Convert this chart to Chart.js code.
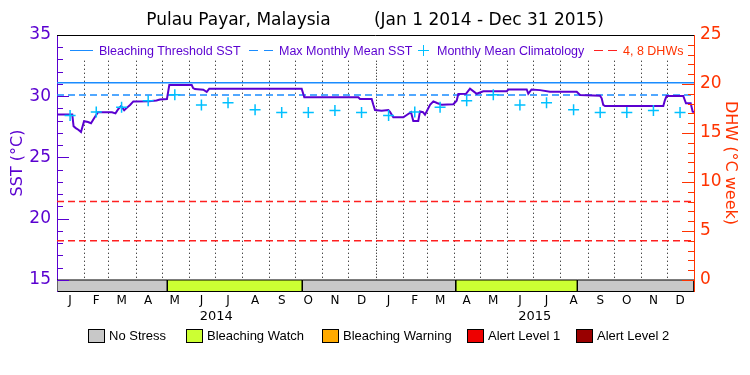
<!DOCTYPE html>
<html>
<head>
<meta charset="utf-8">
<script src="https://cdn.jsdelivr.net/npm/chart.js@4.4.1/dist/chart.umd.min.js"></script>
<style>
  html, body { margin: 0; padding: 0; background: #fff; }
  #wrap { position: relative; width: 750px; height: 375px; overflow: hidden; }
  #chart { position: absolute; left: 0; top: 0; }
  .lt { position: absolute; font-family: "Liberation Sans", Arial, sans-serif; font-size: 12.5px; line-height: 14px; white-space: nowrap; }
  .lb { position: absolute; font-family: "Liberation Sans", Arial, sans-serif; font-size: 13px; line-height: 14px; white-space: nowrap; color: #000; }
  .sw { position: absolute; width: 15px; height: 12px; border: 1px solid #000; }
  .seg { position: absolute; height: 0; }
</style>
</head>
<body>
<div id="wrap">
  <canvas id="chart" width="750" height="375"></canvas>

  <!-- legend inside the plot -->
  <div class="seg" style="left:70px;top:50px;width:23px;border-top:1.5px solid #1a8cff;"></div>
  <div class="lt" style="left:99px;top:44px;color:#5a00d0;">Bleaching Threshold SST</div>
  <div class="seg" style="left:249px;top:50px;width:9px;border-top:1.5px solid #1a8cff;"></div>
  <div class="seg" style="left:264px;top:50px;width:9px;border-top:1.5px solid #1a8cff;"></div>
  <div class="lt" style="left:279px;top:44px;color:#5a00d0;">Max Monthly Mean SST</div>
  <div class="seg" style="left:418px;top:50px;width:11px;border-top:1.5px solid #00c0ff;"></div>
  <div class="seg" style="left:423px;top:45px;width:0;height:11px;border-left:1.5px solid #00c0ff;"></div>
  <div class="lt" style="left:437px;top:44px;color:#5a00d0;">Monthly Mean Climatology</div>
  <div class="seg" style="left:594px;top:50px;width:9px;border-top:1.5px solid #ff2020;"></div>
  <div class="seg" style="left:608px;top:50px;width:9px;border-top:1.5px solid #ff2020;"></div>
  <div class="lt" style="left:623px;top:44px;color:#ff3300;">4, 8 DHWs</div>

  <!-- stress legend -->
  <div id="stressLegend"></div>
</div>

<script>
'use strict';

// ─── Data ────────────────────────────────────────────────────────────────────

// x axis runs in days from Jan 1 2014 (0) to Dec 31 2015 (730)
const DAY_MIN = 0;
const DAY_MAX = 730;

const MONTH_LABELS = ['J','F','M','A','M','J','J','A','S','O','N','D',
                      'J','F','M','A','M','J','J','A','S','O','N','D'];
const MONTH_MIDS   = [15, 45, 74, 104.5, 135, 165.5, 196, 227, 257.5, 288, 318.5, 349,
                      380, 410, 439, 469.5, 500, 530.5, 561, 592, 622.5, 653, 683.5, 714];
const MONTH_STARTS = [31, 59, 90, 120, 151, 181, 212, 243, 273, 304, 334, 365,
                      396, 424, 455, 485, 516, 546, 577, 608, 638, 669, 699];
const YEAR_START_2015 = 365;
const YEAR_LABELS  = ['2014', '2015'];
const YEAR_MIDS    = [182.5, 547.5];

// daily SST (°C), read at the turning points of the purple curve
const SST_DAYS = [
  0, 17.5, 19, 21.5, 24.5, 27.5, 31, 35.5, 39, 42.5, 47, 63, 67, 70.5, 73.5, 77, 80, 84, 87.5,
  105, 114, 118, 126, 128.7, 154.4, 156, 158, 167.7, 171.6, 174.5, 280.4, 283.4, 345.3, 347.2,
  360.6, 362.5, 364.4, 372, 379.7, 381.6, 385.4, 396.9, 400.8, 405.7, 408.3, 414, 416, 419.4,
  421.7, 427.5, 431.3, 435.5, 440.9, 454.2, 458, 459.9, 468.7, 473.3, 481, 488.5, 515.4, 517.2,
  538.3, 540.1, 543.8, 553.5, 565, 595.6, 599.4, 622.3, 624.2, 626, 628, 694.8, 696.7, 698.6,
  717.7, 720.8, 726.2, 728.5, 730,
];
const SST_VALUES = [
  28.5, 28.5, 27.55, 27.4, 27.27, 27.08, 27.96, 27.9, 27.8, 28.2, 28.69, 28.69, 28.6, 28.98, 29.2, 28.85, 29.05, 29.31, 29.58,
  29.6, 29.65, 29.74, 29.78, 30.92, 30.92, 30.67, 30.59, 30.54, 30.35, 30.62, 30.62, 29.92, 29.92, 29.78,
  29.78, 29.3, 28.88, 28.82, 28.88, 28.72, 28.28, 28.28, 28.47, 28.7, 27.98, 27.98, 28.76, 28.7,
  28.5, 29.3, 29.58, 29.45, 29.3, 29.35, 29.64, 30.18, 30.2, 30.62, 30.2, 30.4, 30.4, 30.55,
  30.55, 30.2, 30.55, 30.5, 30.37, 30.37, 30.1, 30.05, 29.83, 29.29, 29.2, 29.2, 29.69, 30.02,
  30.02, 29.42, 29.42, 28.74, 28.7,
];

// monthly mean climatology (°C), one cross per month
const CLIM_VALUES = [
  28.42, 28.72, 29.1, 29.64, 30.12, 29.28, 29.46, 28.9, 28.68, 28.68, 28.84, 28.67,
  28.42, 28.72, 29.1, 29.64, 30.12, 29.28, 29.46, 28.9, 28.68, 28.68, 28.84, 28.67,
];

const MMM_SST       = 30.1;   // max monthly mean
const THRESHOLD_SST = 31.1;   // bleaching threshold = MMM + 1
const DHW_LEVELS    = [4, 8];

// stress level bar along the bottom
const STRESS_START = [0, 126.4, 281.1, 456.9, 596.3];
const STRESS_END   = [126.4, 281.1, 456.9, 596.3, 730];
const STRESS_LEVEL = ['No Stress', 'Bleaching Watch', 'No Stress', 'Bleaching Watch', 'No Stress'];

const STRESS_NAMES  = ['No Stress', 'Bleaching Watch', 'Bleaching Warning', 'Alert Level 1', 'Alert Level 2'];
const STRESS_COLORS = ['#c8c8c8', '#ccff33', '#ffaa00', '#ee0000', '#990000'];

// ─── Axes ────────────────────────────────────────────────────────────────────

const SST_MIN = 14.102;   // leaves room for the stress bar under 15 °C
const SST_MAX = 35;
const SST_BAR_TOP = 15;
const DHW_MIN = -1.122;
const DHW_MAX = 25;
const GRID_TOP = 32.9;    // dotted month lines stop under the legend

const PURPLE = '#5a00d0';
const ORANGE = '#ff3300';
const FONT   = '"DejaVu Sans", sans-serif';

// ─── Plugin: dotted month lines, inward ticks, top frame ────────────────────

const framePlugin = {
  id: 'frame',
  beforeDatasetsDraw(chart) {
    const { ctx, scales: { x, y } } = chart;
    const top = y.getPixelForValue(GRID_TOP);
    const bottom = y.getPixelForValue(SST_BAR_TOP);
    ctx.save();
    ctx.strokeStyle = '#000';
    ctx.lineWidth = 1;
    MONTH_STARTS.forEach(d => {
      const px = Math.round(x.getPixelForValue(d)) + 0.5;
      ctx.setLineDash(d === YEAR_START_2015 ? [1, 2] : [1, 3]);
      ctx.beginPath();
      ctx.moveTo(px, top);
      ctx.lineTo(px, bottom);
      ctx.stroke();
    });
    ctx.restore();
  },
  afterDatasetsDraw(chart) {
    const { ctx, chartArea: a, scales: { y, y2 } } = chart;
    ctx.save();
    ctx.lineWidth = 1;

    ctx.strokeStyle = PURPLE;
    for (let v = 15; v <= 35; v++) {
      const py = Math.round(y.getPixelForValue(v)) + 0.5;
      const len = v % 5 === 0 ? 12 : 6;
      ctx.beginPath(); ctx.moveTo(a.left, py); ctx.lineTo(a.left + len, py); ctx.stroke();
    }

    ctx.strokeStyle = ORANGE;
    for (let v = 0; v <= 25; v++) {
      const py = Math.round(y2.getPixelForValue(v)) + 0.5;
      const len = v % 5 === 0 ? 12 : 6;
      ctx.beginPath(); ctx.moveTo(a.right, py); ctx.lineTo(a.right - len, py); ctx.stroke();
    }

    ctx.strokeStyle = '#000';
    ctx.beginPath();
    ctx.moveTo(a.left, Math.round(a.top) + 0.5);
    ctx.lineTo(a.right, Math.round(a.top) + 0.5);
    ctx.stroke();
    ctx.restore();
  },
};

// ─── Datasets ────────────────────────────────────────────────────────────────

function flatLine(value, axis, color, dash, label) {
  return {
    label,
    yAxisID: axis,
    data: [{ x: DAY_MIN, y: value }, { x: DAY_MAX, y: value }],
    borderColor: color,
    borderWidth: 1.5,
    borderDash: dash,
    pointRadius: 0,
    fill: false,
  };
}

function stressDatasets() {
  return STRESS_START.map((s, i) => ({
    label: STRESS_LEVEL[i],
    yAxisID: 'y',
    data: [
      { x: s, y: SST_MIN }, { x: s, y: SST_BAR_TOP },
      { x: STRESS_END[i], y: SST_BAR_TOP }, { x: STRESS_END[i], y: SST_MIN },
    ],
    borderColor: '#000',
    borderWidth: 1,
    backgroundColor: STRESS_COLORS[STRESS_NAMES.indexOf(STRESS_LEVEL[i])],
    pointRadius: 0,
    fill: 'start',
  }));
}

// first dataset is drawn on top
const datasets = [
  {
    label: 'Monthly Mean Climatology',
    yAxisID: 'y',
    data: MONTH_MIDS.map((d, i) => ({ x: d, y: CLIM_VALUES[i] })),
    showLine: false,
    pointStyle: 'cross',
    pointRadius: 5.5,
    pointBorderWidth: 1.5,
    pointBorderColor: '#00c0ff',
    borderColor: '#00c0ff',
  },
  {
    label: 'SST',
    yAxisID: 'y',
    data: SST_DAYS.map((d, i) => ({ x: d, y: SST_VALUES[i] })),
    borderColor: PURPLE,
    borderWidth: 2,
    pointRadius: 0,
    tension: 0,
    fill: false,
  },
  ...DHW_LEVELS.map(v => flatLine(v, 'y2', '#ff2020', [7, 4], v + ' DHW')),
  flatLine(MMM_SST, 'y', '#1a8cff', [7, 4], 'Max Monthly Mean SST'),
  flatLine(THRESHOLD_SST, 'y', '#1a8cff', [], 'Bleaching Threshold SST'),
  ...stressDatasets(),
];

// ─── Chart ───────────────────────────────────────────────────────────────────

new Chart(document.getElementById('chart').getContext('2d'), {
  type: 'line',
  data: { datasets },
  plugins: [framePlugin],
  options: {
    responsive: false,
    animation: false,
    events: [],
    layout: { padding: { top: 0, left: 0, right: 0, bottom: 50 } },
    plugins: {
      legend: { display: false },
      tooltip: { enabled: false },
      title: {
        display: true,
        text: 'Pulau Payar, Malaysia        (Jan 1 2014 - Dec 31 2015)',
        color: '#000',
        font: { family: FONT, size: 17, weight: 'normal', lineHeight: 1.2 },
        padding: { top: 10.2, bottom: 4.4 },
      },
    },
    scales: {
      x: {
        type: 'linear',
        position: 'bottom',
        weight: 0,
        min: DAY_MIN,
        max: DAY_MAX,
        afterBuildTicks: s => { s.ticks = MONTH_MIDS.map(v => ({ value: v })); },
        afterFit: s => { s.height = 16; },
        ticks: {
          autoSkip: false,
          maxRotation: 0,
          padding: 3,
          color: '#000',
          font: { family: FONT, size: 12 },
          callback: (v, i) => MONTH_LABELS[i],
        },
        grid: { display: false, drawTicks: false },
        border: { display: true, color: '#000', width: 1 },
      },
      xYear: {
        type: 'linear',
        position: 'bottom',
        weight: 1,
        min: DAY_MIN,
        max: DAY_MAX,
        afterBuildTicks: s => { s.ticks = YEAR_MIDS.map(v => ({ value: v })); },
        afterFit: s => { s.height = 18; },
        ticks: {
          autoSkip: false,
          maxRotation: 0,
          padding: 2,
          color: '#000',
          font: { family: FONT, size: 13 },
          callback: (v, i) => YEAR_LABELS[i],
        },
        grid: { display: false, drawTicks: false },
        border: { display: false },
      },
      y: {
        position: 'left',
        min: SST_MIN,
        max: SST_MAX,
        afterBuildTicks: s => {
          const t = [];
          for (let v = 15; v <= 35; v++) t.push({ value: v });
          s.ticks = t;
        },
        afterFit: s => { s.width = 57; },
        ticks: {
          autoSkip: false,
          padding: 6,
          color: PURPLE,
          font: { family: FONT, size: 17 },
          callback: v => (v % 5 === 0 ? String(v) : ''),
        },
        title: {
          display: true,
          text: 'SST (°C)',
          color: PURPLE,
          font: { family: FONT, size: 16, lineHeight: 1.2 },
          padding: { top: 8, bottom: 0 },
        },
        grid: { display: false, drawTicks: false },
        border: { display: true, color: PURPLE, width: 1 },
      },
      y2: {
        position: 'right',
        min: DHW_MIN,
        max: DHW_MAX,
        afterBuildTicks: s => {
          const t = [];
          for (let v = 0; v <= 25; v++) t.push({ value: v });
          s.ticks = t;
        },
        afterFit: s => { s.width = 56; },
        ticks: {
          autoSkip: false,
          padding: 6,
          color: ORANGE,
          font: { family: FONT, size: 17 },
          callback: v => (v % 5 === 0 ? String(v) : ''),
        },
        title: {
          display: true,
          text: 'DHW (°C week)',
          color: ORANGE,
          font: { family: FONT, size: 16, lineHeight: 1.2 },
          padding: { top: 10.4, bottom: 0 },
        },
        grid: { display: false, drawTicks: false },
        border: { display: true, color: ORANGE, width: 1 },
      },
    },
  },
});

// ─── Stress legend ───────────────────────────────────────────────────────────

const LEGEND_LEFT = [88, 186, 322, 467, 576];
const legendBox = document.getElementById('stressLegend');
STRESS_NAMES.forEach((name, i) => {
  const sw = document.createElement('div');
  sw.className = 'sw';
  sw.style.left = LEGEND_LEFT[i] + 'px';
  sw.style.top = '329px';
  sw.style.background = STRESS_COLORS[i];
  legendBox.appendChild(sw);

  const tx = document.createElement('div');
  tx.className = 'lb';
  tx.style.left = (LEGEND_LEFT[i] + 21) + 'px';
  tx.style.top = '329px';
  tx.textContent = name;
  legendBox.appendChild(tx);
});
</script>
</body>
</html>
